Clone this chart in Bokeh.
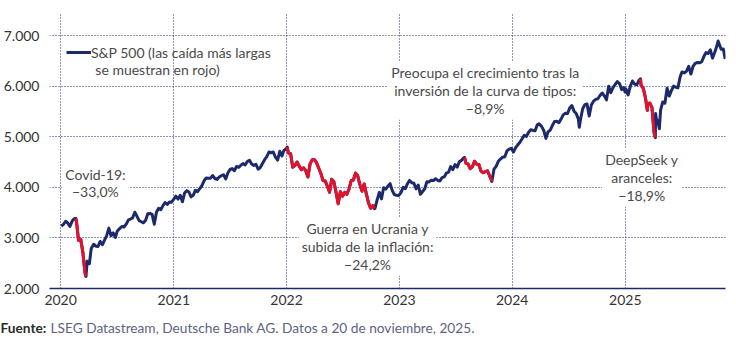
import pandas as pd
from bokeh.plotting import figure
from bokeh.models import ColumnDataSource, Range1d, FixedTicker, Label, Legend, LegendItem
from bokeh.embed import file_html
from bokeh.resources import INLINE

# ---------------- data ----------------
dates_2020 = ["2020-01-03","2020-01-10","2020-01-17","2020-01-24","2020-01-31","2020-02-07","2020-02-14",
              "2020-02-19","2020-02-21","2020-02-28","2020-03-06","2020-03-13","2020-03-20","2020-03-23",
              "2020-03-27","2020-04-03","2020-04-09","2020-04-17","2020-04-24","2020-05-01","2020-05-08",
              "2020-05-15","2020-05-22","2020-05-29","2020-06-05","2020-06-12","2020-06-19","2020-06-26",
              "2020-07-02","2020-07-10","2020-07-17","2020-07-24","2020-07-31","2020-08-07","2020-08-14",
              "2020-08-21","2020-08-28","2020-09-04","2020-09-11","2020-09-18","2020-09-25","2020-10-02",
              "2020-10-09","2020-10-16","2020-10-23","2020-10-30","2020-11-06","2020-11-13","2020-11-20",
              "2020-11-27","2020-12-04","2020-12-11","2020-12-18","2020-12-24","2020-12-31"]
close_2020 = [3235,3265,3330,3295,3226,3328,3380,
              3386,3338,2954,2972,2711,2305,2237,
              2541,2489,2790,2875,2837,2831,2930,
              2864,2955,3044,3194,3041,3098,3009,
              3130,3185,3225,3216,3271,3351,3373,
              3397,3508,3427,3341,3319,3298,3348,
              3477,3484,3465,3270,3509,3585,3558,
              3638,3699,3663,3709,3703,3756]

dates_2021 = ["2021-01-08","2021-01-15","2021-01-22","2021-01-29","2021-02-05","2021-02-12","2021-02-19",
              "2021-02-26","2021-03-05","2021-03-12","2021-03-19","2021-03-26","2021-04-01","2021-04-09",
              "2021-04-16","2021-04-23","2021-04-30","2021-05-07","2021-05-14","2021-05-21","2021-05-28",
              "2021-06-04","2021-06-11","2021-06-18","2021-06-25","2021-07-02","2021-07-09","2021-07-16",
              "2021-07-23","2021-07-30","2021-08-06","2021-08-13","2021-08-20","2021-08-27","2021-09-03",
              "2021-09-10","2021-09-17","2021-09-24","2021-10-01","2021-10-08","2021-10-15","2021-10-22",
              "2021-10-29","2021-11-05","2021-11-12","2021-11-19","2021-11-26","2021-12-03","2021-12-10",
              "2021-12-17","2021-12-23","2021-12-31"]
close_2021 = [3825,3768,3841,3714,3887,3934,3907,
              3811,3842,3943,3913,3975,4020,4129,
              4185,4180,4181,4233,4174,4156,4204,
              4230,4247,4166,4281,4352,4370,4327,
              4412,4395,4437,4468,4442,4509,4535,
              4459,4433,4455,4357,4391,4471,4545,
              4605,4697,4683,4698,4595,4538,4712,
              4620,4725,4766]

dates_2022 = ["2022-01-03","2022-01-07","2022-01-14","2022-01-21","2022-01-28","2022-02-04","2022-02-11",
              "2022-02-18","2022-02-25","2022-03-04","2022-03-11","2022-03-18","2022-03-25","2022-04-01",
              "2022-04-08","2022-04-14","2022-04-22","2022-04-29","2022-05-06","2022-05-13","2022-05-20",
              "2022-05-27","2022-06-03","2022-06-10","2022-06-17","2022-06-24","2022-07-01","2022-07-08",
              "2022-07-15","2022-07-22","2022-07-29","2022-08-05","2022-08-12","2022-08-19","2022-08-26",
              "2022-09-02","2022-09-09","2022-09-16","2022-09-23","2022-09-30","2022-10-07","2022-10-12",
              "2022-10-14","2022-10-21","2022-10-28","2022-11-04","2022-11-11","2022-11-18","2022-11-25",
              "2022-12-02","2022-12-09","2022-12-16","2022-12-23","2022-12-30"]
close_2022 = [4797,4677,4663,4398,4432,4501,4419,
              4349,4385,4329,4204,4463,4543,4546,
              4488,4393,4272,4132,4123,4024,3901,
              4158,4109,3901,3675,3912,3825,3899,
              3863,3962,4130,4145,4280,4228,4058,
              3924,4067,3873,3693,3586,3640,3577,
              3583,3753,3901,3771,3993,3965,4026,
              4072,3934,3852,3845,3840]

dates_2023 = ["2023-01-06","2023-01-13","2023-01-20","2023-01-27","2023-02-03","2023-02-10","2023-02-17",
              "2023-02-24","2023-03-03","2023-03-10","2023-03-17","2023-03-24","2023-03-31","2023-04-06",
              "2023-04-14","2023-04-21","2023-04-28","2023-05-05","2023-05-12","2023-05-19","2023-05-26",
              "2023-06-02","2023-06-09","2023-06-16","2023-06-23","2023-06-30","2023-07-07","2023-07-14",
              "2023-07-21","2023-07-28","2023-07-31","2023-08-04","2023-08-11","2023-08-18","2023-08-25",
              "2023-09-01","2023-09-08","2023-09-15","2023-09-22","2023-09-29","2023-10-06","2023-10-13",
              "2023-10-20","2023-10-27","2023-11-03","2023-11-10","2023-11-17","2023-11-24","2023-12-01",
              "2023-12-08","2023-12-15","2023-12-22","2023-12-29"]
close_2023 = [3895,3999,3972,4071,4136,4090,4079,
              3970,4045,3862,3917,3971,4109,4105,
              4138,4133,4169,4136,4124,4192,4205,
              4282,4299,4410,4348,4450,4399,4505,
              4536,4582,4589,4478,4464,4370,4406,
              4516,4457,4450,4320,4288,4308,4327,
              4224,4117,4358,4415,4514,4559,4595,
              4604,4719,4755,4770]

dates_2024 = ["2024-01-05","2024-01-12","2024-01-19","2024-01-26","2024-02-02","2024-02-09","2024-02-16",
              "2024-02-23","2024-03-01","2024-03-08","2024-03-15","2024-03-22","2024-03-28","2024-04-05",
              "2024-04-12","2024-04-19","2024-04-26","2024-05-03","2024-05-10","2024-05-17","2024-05-24",
              "2024-05-31","2024-06-07","2024-06-14","2024-06-21","2024-06-28","2024-07-05","2024-07-12",
              "2024-07-19","2024-07-26","2024-08-02","2024-08-05","2024-08-09","2024-08-16","2024-08-23",
              "2024-08-30","2024-09-06","2024-09-13","2024-09-20","2024-09-27","2024-10-04","2024-10-11",
              "2024-10-18","2024-10-25","2024-11-01","2024-11-08","2024-11-15","2024-11-22","2024-11-29",
              "2024-12-06","2024-12-13","2024-12-20","2024-12-27","2024-12-31"]
close_2024 = [4697,4784,4840,4891,4959,5027,5006,
              5089,5137,5124,5117,5234,5254,5204,
              5123,4967,5100,5128,5223,5303,5305,
              5278,5347,5432,5465,5460,5567,5615,
              5505,5459,5347,5186,5344,5554,5634,
              5648,5408,5626,5703,5738,5751,5815,
              5864,5808,5729,5996,5870,5969,6032,
              6090,6051,5931,5971,5882]

dates_2025 = ["2025-01-03","2025-01-10","2025-01-17","2025-01-24","2025-01-31","2025-02-07","2025-02-14",
              "2025-02-19","2025-02-21","2025-02-28","2025-03-07","2025-03-13","2025-03-14","2025-03-21",
              "2025-03-28","2025-04-04","2025-04-08","2025-04-09","2025-04-11","2025-04-17","2025-04-21",
              "2025-04-25","2025-05-02","2025-05-09","2025-05-16","2025-05-23","2025-05-30","2025-06-06",
              "2025-06-13","2025-06-20","2025-06-27","2025-07-03","2025-07-11","2025-07-18","2025-07-25",
              "2025-08-01","2025-08-08","2025-08-15","2025-08-22","2025-08-29","2025-09-05","2025-09-12",
              "2025-09-19","2025-09-26","2025-10-03","2025-10-10","2025-10-17","2025-10-24","2025-10-28",
              "2025-10-31","2025-11-07","2025-11-14","2025-11-20"]
close_2025 = [5942,5827,5997,6101,6041,6026,6115,
              6144,6013,5955,5770,5522,5639,5667,
              5581,5074,4982,5457,5363,5283,5158,
              5525,5687,5660,5958,5803,5912,6000,
              5977,5967,6173,6279,6260,6297,6389,
              6238,6389,6450,6467,6460,6482,6584,
              6664,6644,6716,6553,6664,6792,6891,
              6840,6728,6734,6538]

# largest drawdowns (shown in red)
drawdown_start = ["2020-02-19", "2022-01-03", "2023-07-31", "2025-02-19"]
drawdown_end = ["2020-03-23", "2022-10-12", "2023-10-27", "2025-04-08"]
drawdown_text = ["Covid-19:\n\u221233,0%",
                 "Guerra en Ucrania y\nsubida de la inflaci\u00f3n:\n\u221224,2%",
                 "Preocupa el crecimiento tras la\ninversi\u00f3n de la curva de tipos:\n\u22128,9%",
                 "DeepSeek y\naranceles:\n\u221218,9%"]

years = [2020, 2021, 2022, 2023, 2024, 2025]
year_labels = ["2020", "2021", "2022", "2023", "2024", "2025"]
y_ticks = [2000, 3000, 4000, 5000, 6000, 7000]
y_labels = ["2.000", "3.000", "4.000", "5.000", "6.000", "7.000"]

legend_lines = ["S&P 500 (las ca\u00edda m\u00e1s largas", "se muestran en rojo)"]
source_bold = "Fuente:"
source_text = "LSEG Datastream, Deutsche Bank AG. Datos a 20 de noviembre, 2025."

# ---------------- styling ----------------
NAVY = "#1c2a6c"
RED = "#e4112c"
TXT = "#4a4a4a"
FONT = "Lato"
FS = "14px"

all_dates = dates_2020 + dates_2021 + dates_2022 + dates_2023 + dates_2024 + dates_2025
all_close = close_2020 + close_2021 + close_2022 + close_2023 + close_2024 + close_2025
df = pd.DataFrame({"date": pd.to_datetime(all_dates), "close": all_close})

X0, X1 = pd.Timestamp("2019-11-26"), pd.Timestamp("2025-11-21")
Y0, Y1 = 2000, 7455
ML, MR, MT, MB = 47, 11, 12, 24
W, H = 736, 312
FRAME_W, FRAME_H = W - ML - MR, H - MT - MB
ms_per_px = (X1 - X0).total_seconds() * 1000 / FRAME_W
val_per_px = (Y1 - Y0) / FRAME_H


def px_x(px):  # canvas pixel -> x data value (for annotation placement)
    return X0.value / 1e6 + (px - ML) * ms_per_px


def px_y(py):  # canvas pixel -> y data value (for annotation placement)
    return Y0 + (H - MB - py) * val_per_px


p = figure(width=W, height=H, x_axis_type="datetime", output_backend="svg",
           toolbar_location=None,
           x_range=Range1d(X0, X1), y_range=Range1d(Y0, Y1),
           min_border_left=ML, min_border_right=MR, min_border_top=MT, min_border_bottom=MB)
p.outline_line_color = None
p.background_fill_color = "white"
p.border_fill_color = "white"

xt = [pd.Timestamp(f"{y}-01-01").value / 1e6 for y in years]

p.xaxis.ticker = FixedTicker(ticks=xt)
p.xaxis.major_label_overrides = {t: l for t, l in zip(xt, year_labels)}
p.xaxis.axis_line_color = NAVY
p.xaxis.axis_line_width = 1.5
p.xaxis.major_tick_line_color = None
p.xaxis.minor_tick_line_color = None
p.xaxis.major_tick_out = 0
p.xaxis.major_tick_in = 0
p.xaxis.minor_tick_out = 0
p.xaxis.major_label_standoff = 6
p.xaxis.major_label_text_font = FONT
p.xaxis.major_label_text_font_size = FS
p.xaxis.major_label_text_color = "#333333"

p.yaxis.ticker = FixedTicker(ticks=y_ticks)
p.yaxis.major_label_overrides = {t: l for t, l in zip(y_ticks, y_labels)}
p.yaxis.axis_line_color = None
p.yaxis.major_tick_line_color = None
p.yaxis.minor_tick_line_color = None
p.yaxis.major_tick_out = 0
p.yaxis.major_tick_in = 0
p.yaxis.minor_tick_out = 0
p.yaxis.major_label_standoff = 10
p.yaxis.major_label_text_font = FONT
p.yaxis.major_label_text_font_size = FS
p.yaxis.major_label_text_color = "#333333"

p.xgrid.ticker = FixedTicker(ticks=xt)
p.ygrid.ticker = FixedTicker(ticks=y_ticks)
for g in (p.xgrid, p.ygrid):
    g.grid_line_color = NAVY
    g.grid_line_dash = "1 2"
    g.grid_line_width = 1

src = ColumnDataSource(df)
main = p.line(x="date", y="close", source=src, line_color=NAVY, line_width=3, line_join="round")
for s, e in zip(drawdown_start, drawdown_end):
    sub = df[(df.date >= pd.Timestamp(s)) & (df.date <= pd.Timestamp(e))]
    p.line(x="date", y="close", source=ColumnDataSource(sub), line_color=RED, line_width=3,
           line_join="round")

# legend: swatch + first line, second line as a label
legend = Legend(items=[LegendItem(label=legend_lines[0], renderers=[main])],
                location=(17, 288 - 61), padding=0, margin=0, spacing=0,
                glyph_width=25, glyph_height=18, label_height=18, label_standoff=0,
                label_text_font=FONT, label_text_font_size=FS, label_text_color=TXT,
                background_fill_alpha=0, border_line_color=None)
p.add_layout(legend)
p.add_layout(Label(x=px_x(93), y=px_y(69), text=legend_lines[1], text_baseline="middle",
                   text_font=FONT, text_font_size=FS, text_color=TXT))

# annotations (white boxes behind text, under the line)
ann_px = [(93, 182.5), (366, 246), (484, 90), (641, 177)]
for (ax, ay), txt in zip(ann_px, drawdown_text):
    p.add_layout(Label(x=px_x(ax), y=px_y(ay), text=txt, text_align="center",
                       text_baseline="middle", text_font=FONT, text_font_size=FS,
                       text_color=TXT, text_line_height=1.05, level="underlay",
                       background_fill_color="white", padding=3))

# source line: a separate small strip below the chart
SH = 340 - H
q = figure(width=W, height=SH, output_backend="svg", toolbar_location=None,
           x_axis_location=None, y_axis_location=None,
           x_range=Range1d(0, W), y_range=Range1d(0, SH),
           min_border_left=0, min_border_right=0, min_border_top=0, min_border_bottom=0)
q.grid.visible = False
q.outline_line_color = None
q.background_fill_color = "white"
q.border_fill_color = "white"
q.add_layout(Label(x=0, y=340 - 327, text=source_bold, text_font=FONT, text_font_size="13.7px",
                   text_font_style="bold", text_color="#2b2b2b", text_baseline="middle"))
q.add_layout(Label(x=50, y=340 - 327, text=source_text, text_font=FONT, text_font_size="13.7px",
                   text_color="#5d6382", text_baseline="middle"))

open("out.html", "w").write(file_html([p, q], INLINE))
